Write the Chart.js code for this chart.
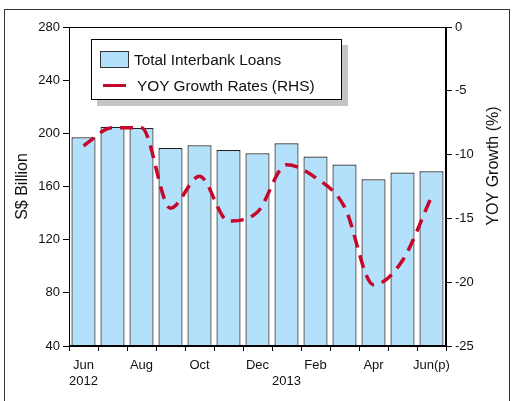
<!DOCTYPE html>
<html>
<head>
<meta charset="utf-8">
<script src="https://cdn.jsdelivr.net/npm/chart.js@4"></script>
<style>
body{margin:0;background:#fff;font-family:"Liberation Sans",Arial,sans-serif;}
#wrap{position:relative;width:513px;height:401px;overflow:hidden;}
#frame{position:absolute;left:4px;top:9px;width:506px;height:400px;border:1px solid #333;box-sizing:border-box;}
#legend{position:absolute;left:91px;top:39px;width:251px;height:61px;border:1px solid #000;background:#fff;box-sizing:border-box;box-shadow:6px 6px 0 #c4c4c4;font-size:15.4px;color:#111;}
#legend .sw{position:absolute;left:8px;top:11px;width:29px;height:17px;background:#b3e1fb;border:1px solid #333;box-sizing:border-box;}
#legend .ln{position:absolute;left:11px;top:44px;width:23px;height:3px;background:#c5072c;}
#legend .t1{position:absolute;left:42px;top:11px;}
#legend .t2{position:absolute;left:45px;top:37px;}
canvas{position:absolute;left:0;top:0;}
</style>
</head>
<body>
<div id="wrap">
<div id="frame"></div>
<canvas id="chart" width="513" height="401"></canvas>
<div id="legend">
<div class="sw"></div><div class="t1">Total Interbank Loans</div>
<div class="ln"></div><div class="t2">YOY Growth Rates (RHS)</div>
</div>
</div>
<script>
const months=[["Jun","2012"],"",["Aug"],"",["Oct"],"",["Dec"],["","2013"],["Feb"],"",["Apr"],"",["Jun(p)"]];
const loans=[197,205,204,189,191,187.5,185,192.5,182.5,176.5,165.5,170.5,171.5];
const yoyGrowth=[-9.3,-7.9,-7.9,-14.2,-11.7,-15.2,-14.5,-10.8,-11.8,-14.1,-20.2,-18.3,-13.3];
const leftTicks=[40,80,120,160,200,240,280];
const rightTicks=[-25,-20,-15,-10,-5,0];

// plot box border + right axis title (reads bottom to top like the left one)
const frameBox={
id:"frameBox",
afterDatasetsDraw(chart){
const a=chart.chartArea;
const ctx=chart.ctx;
ctx.save();
ctx.strokeStyle="#000";
ctx.lineWidth=1;
ctx.strokeRect(a.left+0.5,a.top+0.5,a.right-a.left-1,a.bottom-a.top-1);
ctx.restore();
},
afterDraw(chart){
const ctx=chart.ctx;
ctx.save();
ctx.translate(494,166);
ctx.rotate(-Math.PI/2);
ctx.font="16px 'Liberation Sans'";
ctx.fillStyle="#111";
ctx.textAlign="center";
ctx.textBaseline="middle";
ctx.fillText("YOY Growth (%)",0,0);
ctx.restore();
}
};

new Chart(document.getElementById("chart"),{
type:"bar",
data:{
labels:months,
datasets:[
{
type:"line",
label:"YOY Growth Rates (RHS)",
data:yoyGrowth,
yAxisID:"y1",
borderColor:"#c5072c",
borderWidth:3.5,
borderDash:[13,8],
pointRadius:0,
cubicInterpolationMode:"monotone",
fill:false,
order:0
},
{
label:"Total Interbank Loans",
data:loans,
yAxisID:"y",
backgroundColor:"#b3e1fb",
borderColor:"#222",
borderWidth:1.2,
barPercentage:0.83,
categoryPercentage:1,
order:1
}
]
},
options:{
responsive:false,
animation:false,
layout:{padding:{top:27,left:0,right:0,bottom:0}},
plugins:{legend:{display:false},tooltip:{enabled:false}},
scales:{
x:{
grid:{drawOnChartArea:false,color:"#000",tickLength:5},
border:{color:"#000"},
ticks:{color:"#111",font:{size:13,family:"Liberation Sans"},maxRotation:0,autoSkip:false,padding:7},
afterFit(s){s.height=55;}
},
y:{
position:"left",
min:40,max:280,
afterBuildTicks(s){s.ticks=leftTicks.map(v=>({value:v}));},
grid:{drawOnChartArea:false,color:"#000",tickLength:6},
border:{color:"#000"},
ticks:{color:"#111",font:{size:13,family:"Liberation Sans"},padding:3},
title:{display:true,text:"S$ Billion",color:"#111",font:{size:16,family:"Liberation Sans"},padding:{top:13,bottom:0}},
afterFit(s){s.width=69;}
},
y1:{
position:"right",
min:-25,max:0,
afterBuildTicks(s){s.ticks=rightTicks.map(v=>({value:v}));},
grid:{drawOnChartArea:false,color:"#000",tickLength:6},
border:{color:"#000"},
ticks:{color:"#111",font:{size:13,family:"Liberation Sans"},padding:3},
afterFit(s){s.width=67;}
}
}
},
plugins:[frameBox]
});
</script>
</body>
</html>
